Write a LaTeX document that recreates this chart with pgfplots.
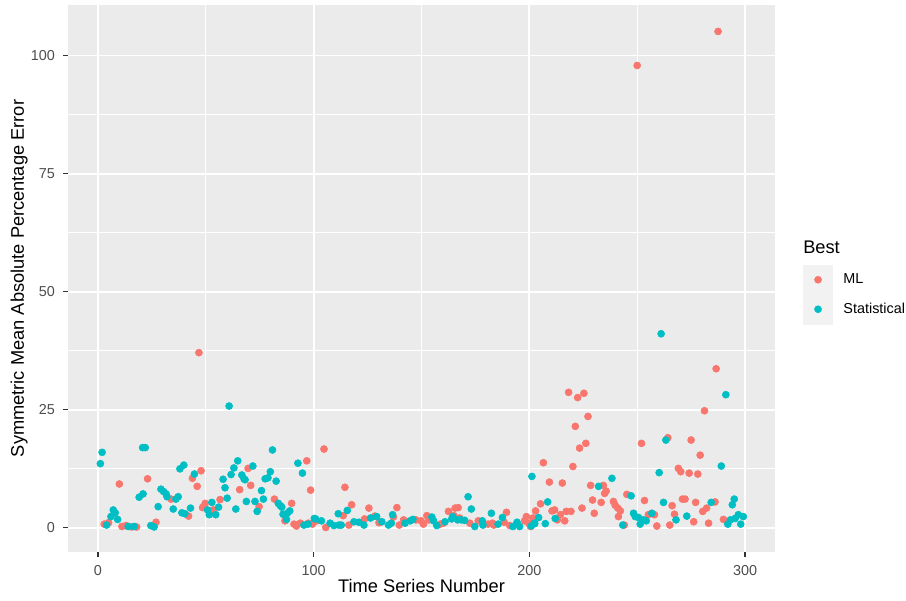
\documentclass[border=0pt]{standalone}
\usepackage{fontspec}
\setmainfont{Liberation Sans}
\usepackage{pgfplots}
\pgfplotsset{compat=1.18}
\definecolor{mlred}{HTML}{F8766D}
\definecolor{statcyan}{HTML}{00BFC4}
\definecolor{panelgrey}{HTML}{EBEBEB}
\definecolor{keygrey}{HTML}{F2F2F2}
\definecolor{ticklab}{HTML}{4D4D4D}
\definecolor{tickcol}{HTML}{333333}
\begin{document}
\begin{tikzpicture}
\begin{axis}[name=ax, scale only axis, width=530.25pt, height=410.25pt,
  xmin=-13.9, xmax=313.9, ymin=-5.1, ymax=110.7,
  axis background/.style={fill=panelgrey},
  axis x line*=bottom, axis y line*=left, axis line style={draw=none},
  xtick={0,100,200,300}, ytick={0,25,50,75,100},
  minor xtick={50,150,250}, minor ytick={12.5,37.5,62.5,87.5},
  grid=both,
  major grid style={white, line width=1.4pt},
  minor grid style={white, line width=0.7pt},
  tick align=outside, major tick length=3.4pt, minor tick length=0pt,
  major tick style={tickcol, line width=0.8pt},
  ticklabel style={font=\fontsize{10.8}{12}\selectfont, text=ticklab, inner sep=0pt},
  /pgf/number format/assume math mode=true,
  xticklabel shift=6.2pt, yticklabel shift=6.2pt,
  label style={font=\fontsize{13.7}{16}\selectfont, inner sep=0pt},
  xlabel={Time Series Number},
  ylabel={Symmetric Mean Absolute Percentage Error},
  xlabel style={at={(axis description cs:0.5,-0.0494)}, anchor=north},
  ylabel style={at={(axis description cs:-0.0566,0.5)}, anchor=south},
  legend style={at={(1,0.5)}, anchor=west, xshift=21pt, yshift=-12pt,
    draw=none, fill=none, inner sep=0pt, row sep=0pt, column sep=6pt,
    font=\fontsize{10.8}{12}\selectfont},
  legend cell align=left,
]
\addplot[only marks, mark=*, mark size=2.65pt, color=mlred,
  legend image code/.code={\fill[keygrey] (0pt,-10.875pt) rectangle (21.75pt,10.875pt); \fill[mlred] (10.875pt,0pt) circle[radius=2.65pt];}]
table {
x y
2.9 0.8
4.9 1.1
9.9 9.3
11.1 0.3
13.0 0.5
15.6 0.2
17.9 0.2
23.0 10.4
26.9 1.2
33.9 6.1
42.0 2.5
43.8 10.5
46.0 8.8
46.8 37.1
47.8 12.1
48.5 4.3
49.7 5.2
48.8 4.4
53.4 3.8
56.6 6.0
65.7 8.1
69.6 12.6
70.8 9.0
74.7 4.5
81.8 6.1
86.7 1.5
89.8 5.2
90.9 0.8
92.0 0.4
93.8 1.0
96.8 14.2
97.5 1.0
98.6 8.0
99.4 0.8
101.4 1.5
104.8 16.7
105.6 0.1
113.7 2.6
114.5 8.6
116.3 0.6
117.6 4.9
123.6 1.9
125.6 4.2
128.4 2.5
130.3 1.1
137.0 2.3
138.6 4.3
139.7 0.6
141.7 1.7
147.4 1.7
149.8 1.5
150.9 0.8
152.5 2.6
153.4 1.7
158.7 0.8
160.2 1.0
162.5 3.5
165.0 2.6
165.6 4.2
167.0 4.3
167.7 2.1
172.4 1.0
176.3 1.5
180.9 0.8
182.9 1.0
183.5 0.6
188.3 1.2
189.4 3.3
190.9 0.5
197.8 1.5
198.6 2.4
199.7 1.0
200.5 0.3
201.7 2.1
202.9 3.6
205.2 5.1
206.5 13.8
209.3 9.7
210.5 3.6
211.7 3.8
213.0 1.7
214.4 2.8
215.3 9.5
216.4 1.5
217.1 3.5
218.2 28.7
219.3 3.5
220.2 13.0
221.3 21.5
222.4 27.6
223.3 16.9
224.4 4.2
225.3 28.5
226.2 17.9
227.2 23.6
228.4 9.0
229.3 5.9
230.1 3.1
233.3 5.4
234.3 9.0
234.9 7.3
235.6 7.8
239.0 5.6
239.8 4.8
241.0 4.2
241.3 2.4
242.2 3.6
244.0 0.6
245.2 7.1
250.0 97.9
252.0 17.9
253.4 5.8
255.2 2.8
258.0 2.8
259.1 0.4
264.2 19.1
265.1 0.6
266.2 4.7
267.3 2.9
269.1 12.6
270.2 11.9
271.0 6.1
272.2 6.1
274.1 11.6
275.0 18.6
276.2 1.3
277.1 5.4
278.1 11.4
279.2 15.4
280.4 3.5
281.2 24.8
282.2 4.2
283.1 1.0
286.1 5.5
286.6 33.7
287.5 105.1
290.0 1.8
};
\addlegendentry{ML}
\addplot[only marks, mark=*, mark size=2.65pt, color=statcyan,
  legend image code/.code={\fill[keygrey] (0pt,-10.875pt) rectangle (21.75pt,10.875pt); \fill[statcyan] (10.875pt,0pt) circle[radius=2.65pt];}]
table {
x y
1.1 13.6
1.9 16.0
4.0 0.6
6.0 2.4
7.1 3.8
8.0 3.2
9.1 1.8
14.0 0.3
16.8 0.3
19.1 6.5
20.9 7.2
20.7 17.0
21.9 17.0
24.5 0.5
26.0 0.2
27.9 4.5
29.2 8.2
30.4 7.7
31.6 7.2
32.0 6.6
34.9 4.0
36.1 6.1
37.2 6.6
38.0 12.5
38.9 3.2
39.8 13.3
40.3 3.0
42.9 4.2
44.7 11.4
50.8 3.8
51.6 2.8
52.8 5.4
54.6 2.8
55.9 4.4
58.0 10.3
58.9 8.5
59.9 6.3
60.8 25.8
61.7 11.3
63.0 12.7
63.9 4.0
64.8 14.2
66.7 11.2
67.7 10.4
68.2 10.2
68.8 5.6
71.8 13.1
72.8 5.6
73.8 3.5
75.8 7.9
76.7 6.1
77.5 10.4
78.8 10.6
79.9 11.9
80.9 16.5
82.6 9.9
83.6 5.2
84.6 4.7
85.2 4.4
85.8 2.9
87.4 1.8
87.8 3.1
88.9 3.6
92.7 13.7
94.8 11.6
95.5 0.6
97.4 0.8
100.3 2.0
100.9 1.9
103.6 1.5
107.6 1.0
109.4 0.5
111.4 3.0
111.7 0.6
112.8 0.6
115.6 3.7
118.7 1.3
121.0 1.2
123.3 0.6
126.4 2.1
129.2 2.4
131.6 1.3
134.7 0.6
136.0 1.0
136.6 2.8
142.4 1.0
144.7 1.5
146.0 1.8
154.8 2.3
155.6 1.5
157.1 0.5
160.9 1.3
164.0 1.9
164.5 2.4
166.8 1.7
168.5 1.7
170.0 1.6
171.6 6.6
173.1 4.0
174.7 0.3
178.2 1.5
178.5 0.6
182.4 3.1
185.5 0.8
187.5 2.2
192.4 0.3
194.3 1.2
195.5 0.3
200.9 0.4
201.2 10.9
202.3 1.0
202.5 0.9
204.3 2.2
207.4 0.9
208.5 5.5
212.0 2.0
232.1 8.8
238.3 10.5
243.3 0.6
247.2 6.8
248.3 3.1
249.1 2.4
250.6 2.2
251.4 0.8
252.9 1.7
254.2 1.5
256.8 3.1
260.2 11.7
261.1 41.1
262.2 5.4
263.3 18.6
268.0 1.7
273.0 2.5
284.3 5.4
289.0 13.1
291.1 28.2
292.0 0.8
293.2 1.7
294.1 4.9
295.0 6.1
295.4 2.0
296.9 2.8
298.0 0.8
299.2 2.4
};
\addlegendentry{Statistical}
\end{axis}
\node[anchor=base west, inner sep=0pt, font=\fontsize{13.7}{16}\selectfont] at ([xshift=21pt,yshift=18.4pt]ax.east) {Best};
\pgfresetboundingbox
\path[use as bounding box] ([xshift=-51pt,yshift=-36pt]ax.south west) rectangle ([xshift=98.25pt,yshift=3.75pt]ax.north east);
\end{tikzpicture}
\end{document}
